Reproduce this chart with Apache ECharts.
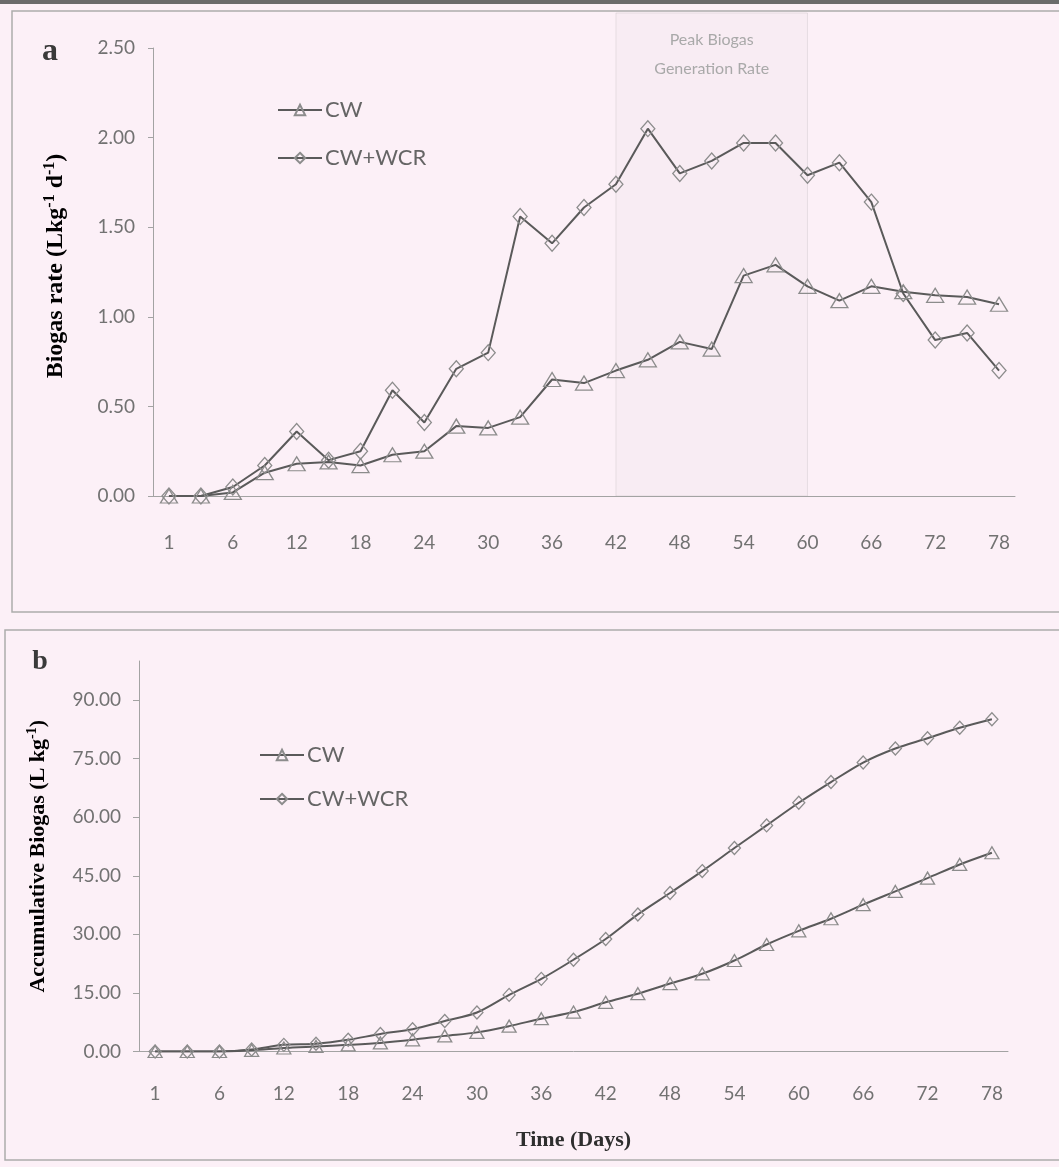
<!DOCTYPE html>
<html>
<head>
<meta charset="utf-8">
<script src="https://cdn.jsdelivr.net/npm/echarts@6/dist/echarts.min.js"></script>
<style>
  html, body { margin: 0; padding: 0; background: #fcf0f7; }
  #chart { width: 1059px; height: 1167px; }
</style>
</head>
<body>
<div id="chart"></div>
<script>
// Sampling days (categories shared by both panels)
const days = [1, 3, 6, 9, 12, 15, 18, 21, 24, 27, 30, 33, 36, 39, 42, 45, 48, 51, 54, 57, 60, 63, 66, 69, 72, 75, 78];

// (a) Biogas generation rate, L kg-1 d-1
const rateCW  = [0.00, 0.00, 0.02, 0.13, 0.18, 0.19, 0.17, 0.23, 0.25, 0.39, 0.38, 0.44, 0.65, 0.63, 0.70, 0.76, 0.86, 0.82, 1.23, 1.29, 1.17, 1.09, 1.17, 1.14, 1.12, 1.11, 1.07];
const rateWCR = [0.00, 0.00, 0.05, 0.17, 0.36, 0.20, 0.25, 0.59, 0.41, 0.71, 0.80, 1.56, 1.41, 1.61, 1.74, 2.05, 1.80, 1.87, 1.97, 1.97, 1.79, 1.86, 1.64, 1.13, 0.87, 0.91, 0.70];

// (b) Accumulative biogas, L kg-1
const cumCW  = [0.0, 0.0, 0.0, 0.3, 0.9, 1.3, 1.7, 2.2, 3.0, 4.0, 4.9, 6.5, 8.4, 10.1, 12.6, 14.8, 17.4, 19.9, 23.3, 27.4, 30.9, 34.0, 37.6, 41.0, 44.4, 47.9, 50.9];
const cumWCR = [0.0, 0.0, 0.0, 0.5, 1.7, 2.0, 3.0, 4.5, 5.7, 7.8, 10.0, 14.5, 18.6, 23.5, 28.8, 35.1, 40.6, 46.2, 52.1, 57.9, 63.7, 69.0, 74.0, 77.6, 80.2, 82.9, 85.1];

// Axis tick values
const rateTicks = [0, 0.5, 1.0, 1.5, 2.0, 2.5];
const cumTicks  = [0, 15, 30, 45, 60, 75, 90];

// Peak-rate window (days)
const peakWindow = [42, 60];
const seriesNames = ['CW', 'CW+WCR'];

const lineGrey = '#5a5a5a';
const markGrey = '#8c8c8c';
const axisGrey = '#a3a3a3';
const labelGrey = '#727272';
const sansFont = 'Lato, "Open Sans", sans-serif';
const serifFont = '"Liberation Serif", "DejaVu Serif", serif';

function lineSeries(name, data, idx, symbol, size, smooth) {
  return {
    name: name,
    type: 'line',
    xAxisIndex: idx,
    yAxisIndex: idx,
    data: data,
    symbol: symbol,
    symbolSize: size,
    showAllSymbol: true,
    smooth: smooth,
    lineStyle: { color: lineGrey, width: 2 },
    itemStyle: { color: 'rgba(0,0,0,0)', borderColor: markGrey, borderWidth: 1.3 },
    emphasis: { disabled: true },
    z: 3
  };
}

function legendAt(left, top, gap) {
  return {
    data: seriesNames,
    orient: 'vertical',
    left: left,
    top: top,
    itemWidth: 44,
    itemHeight: 13,
    itemGap: gap,
    selectedMode: false,
    textStyle: { fontFamily: sansFont, fontSize: 22, color: '#656565', lineHeight: 24, padding: [0, 0, 0, -2] }
  };
}

const chart = echarts.init(document.getElementById('chart'), null, { renderer: 'canvas' });

const option = {
  backgroundColor: '#fcf0f7',
  animation: false,
  grid: [
    { left: 153, right: 44, top: 48, height: 448 },
    { left: 139, right: 51, top: 661, height: 390.5 }
  ],
  legend: [legendAt(272, 93, 24), legendAt(254, 738, 20)],
  xAxis: [
    {
      type: 'category', gridIndex: 0, data: days, boundaryGap: true,
      axisLine: { lineStyle: { color: axisGrey, width: 1 } },
      axisTick: { interval: 2, length: 6, lineStyle: { color: axisGrey } },
      axisLabel: { interval: 1, margin: 37, fontFamily: sansFont, fontSize: 19, color: labelGrey },
      splitLine: { show: false }
    },
    {
      type: 'category', gridIndex: 1, data: days, boundaryGap: true,
      name: 'Time (Days)', nameLocation: 'middle', nameGap: 78,
      nameTextStyle: { fontFamily: serifFont, fontWeight: 'bold', fontSize: 22, color: '#2e2e2e' },
      axisLine: { lineStyle: { color: axisGrey, width: 1 } },
      axisTick: { interval: 0, length: 6, lineStyle: { color: axisGrey } },
      axisLabel: { interval: 1, margin: 33, fontFamily: sansFont, fontSize: 19, color: labelGrey },
      splitLine: { show: false }
    }
  ],
  yAxis: [
    {
      type: 'value', gridIndex: 0, min: 0, max: 2.5, interval: 0.5,
      axisLine: { show: true, lineStyle: { color: axisGrey, width: 1 } },
      axisTick: { show: true, length: 5, lineStyle: { color: axisGrey } },
      axisLabel: { margin: 18, fontFamily: sansFont, fontSize: 19, color: labelGrey,
                   formatter: function (v) { return v.toFixed(2); } },
      splitLine: { show: false }
    },
    {
      type: 'value', gridIndex: 1, min: 0, max: 100, interval: 15,
      axisLine: { show: true, lineStyle: { color: axisGrey, width: 1 } },
      axisTick: { show: true, length: 6, customValues: cumTicks, lineStyle: { color: axisGrey } },
      axisLabel: { margin: 18, fontFamily: sansFont, fontSize: 19, color: labelGrey, customValues: cumTicks,
                   formatter: function (v) { return v > 90 ? '' : v.toFixed(2); } },
      splitLine: { show: false }
    }
  ],
  series: [
    lineSeries(seriesNames[0], rateCW, 0, 'triangle', [17, 14], false),
    lineSeries(seriesNames[1], rateWCR, 0, 'diamond', [14, 16], false),
    lineSeries(seriesNames[0], cumCW, 1, 'triangle', [14, 12], 0.3),
    lineSeries(seriesNames[1], cumWCR, 1, 'diamond', [12, 13], 0.3)
  ]
};

chart.setOption(option);

// Overlay: panel frames, panel letters, axis titles and the peak-rate window
const xL = chart.convertToPixel({ xAxisIndex: 0 }, days.indexOf(peakWindow[0]));
const xR = chart.convertToPixel({ xAxisIndex: 0 }, days.indexOf(peakWindow[1]));
const yBase = chart.convertToPixel({ yAxisIndex: 0 }, 0);
const yTitleA = (chart.convertToPixel({ yAxisIndex: 0 }, 2.5) + yBase) / 2;
const yTitleB = (chart.convertToPixel({ yAxisIndex: 1 }, 0) + chart.convertToPixel({ yAxisIndex: 1 }, 100)) / 2;

function titleRich(size, supSize) {
  return {
    n: { fontFamily: serifFont, fontWeight: 'bold', fontSize: size, color: '#2e2e2e', lineHeight: size + 4 },
    s: { fontFamily: serifFont, fontWeight: 'bold', fontSize: supSize, color: '#2e2e2e', lineHeight: supSize + 2, verticalAlign: 'top' }
  };
}

chart.setOption({
  graphic: [
    { type: 'rect', z: -5, shape: { x: 0, y: 0, width: 1059, height: 4 }, style: { fill: '#6b6b6b' } },
    { type: 'rect', z: -4, shape: { x: 12, y: 11, width: 1070, height: 601 },
      style: { fill: 'none', stroke: '#acacac', lineWidth: 1.5 } },
    { type: 'rect', z: -4, shape: { x: 5, y: 630, width: 1080, height: 530 },
      style: { fill: 'none', stroke: '#acacac', lineWidth: 1.5 } },
    { type: 'rect', z: -3, shape: { x: xL, y: 13, width: xR - xL, height: yBase - 13 },
      style: { fill: 'rgba(140,140,140,0.035)', stroke: 'rgba(120,120,120,0.15)', lineWidth: 1 } },
    { type: 'text', z: 1, x: (xL + xR) / 2, y: 40,
      style: { text: 'Peak Biogas', font: '16px ' + sansFont, fill: '#a9a9a9', align: 'center', verticalAlign: 'middle' } },
    { type: 'text', z: 1, x: (xL + xR) / 2, y: 69,
      style: { text: 'Generation Rate', font: '16px ' + sansFont, fill: '#a9a9a9', align: 'center', verticalAlign: 'middle' } },
    { type: 'text', z: 1, x: 50, y: 52,
      style: { text: 'a', font: 'bold 32px ' + serifFont, fill: '#3a3a3a', align: 'center', verticalAlign: 'middle' } },
    { type: 'text', z: 1, x: 40, y: 662,
      style: { text: 'b', font: 'bold 28px ' + serifFont, fill: '#3a3a3a', align: 'center', verticalAlign: 'middle' } },
    { type: 'text', z: 1, x: 56, y: yTitleA - 6, rotation: Math.PI / 2,
      style: { text: '{n|Biogas rate (Lkg}{s|-1}{n| d}{s|-1}{n|)}', rich: titleRich(24, 16), align: 'center', verticalAlign: 'middle' } },
    { type: 'text', z: 1, x: 38, y: yTitleB, rotation: Math.PI / 2,
      style: { text: '{n|Accumulative Biogas (L kg}{s|-1}{n|)}', rich: titleRich(22, 14), align: 'center', verticalAlign: 'middle' } }
  ]
});
</script>
</body>
</html>
